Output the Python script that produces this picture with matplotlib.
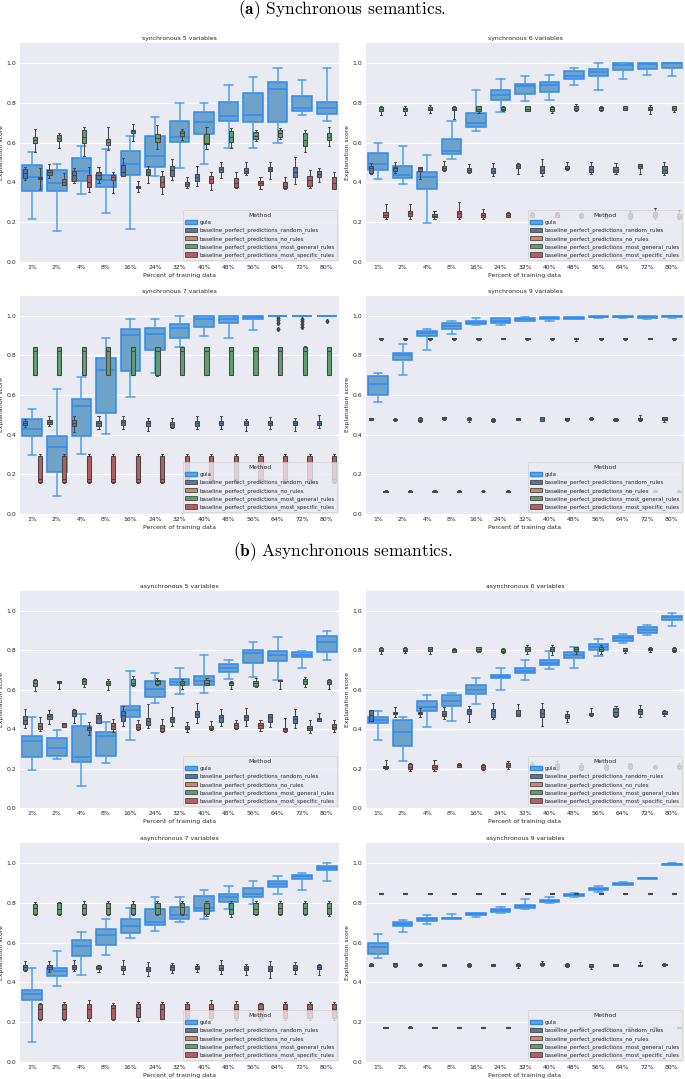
import matplotlib
matplotlib.use("Agg")
import matplotlib.pyplot as plt
from matplotlib.patches import Patch
import seaborn as sns

sns.set_theme(style="darkgrid")
plt.rcParams['font.family'] = ['DejaVu Sans']
plt.rcParams['mathtext.fontset'] = 'cm'

PERCENTS = ["1%", "2%", "4%", "8%", "16%", "24%", "32%", "40%", "48%", "56%", "64%", "72%", "80%"]
METHODS = ["gula",
           "baseline_perfect_predictions_random_rules",
           "baseline_perfect_predictions_no_rules",
           "baseline_perfect_predictions_most_general_rules",
           "baseline_perfect_predictions_most_specific_rules"]
TITLES = ["synchronous 5 variables", "synchronous 6 variables",
          "synchronous 7 variables", "synchronous 9 variables",
          "asynchronous 5 variables", "asynchronous 6 variables",
          "asynchronous 7 variables", "asynchronous 9 variables"]
HEADERS = [r"$\mathbf{(a)}$ Synchronous semantics.", r"$\mathbf{(b)}$ Asynchronous semantics."]

# each row: (lower whisker, Q1, median, Q3, upper whisker), one per percent
S5_GULA = [(0.215, 0.356, 0.429, 0.487, 0.555), (0.155, 0.358, 0.395, 0.462, 0.49),
           (0.341, 0.405, 0.459, 0.521, 0.583), (0.244, 0.375, 0.412, 0.439, 0.566),
           (0.165, 0.439, 0.491, 0.56, 0.634), (0.43, 0.479, 0.534, 0.635, 0.726),
           (0.474, 0.602, 0.63, 0.709, 0.8), (0.491, 0.644, 0.703, 0.751, 0.8),
           (0.571, 0.709, 0.734, 0.805, 0.887), (0.571, 0.703, 0.739, 0.849, 0.928),
           (0.6, 0.703, 0.869, 0.904, 0.973), (0.736, 0.76, 0.776, 0.835, 0.916),
           (0.709, 0.743, 0.773, 0.805, 0.973)]
S5_RANDOM = [(0.41, 0.42, 0.445, 0.465, 0.475), (0.42, 0.439, 0.45, 0.462, 0.49),
             (0.395, 0.408, 0.437, 0.459, 0.474), (0.398, 0.418, 0.437, 0.45, 0.476),
             (0.432, 0.432, 0.454, 0.487, 0.521), (0.398, 0.439, 0.454, 0.467, 0.484),
             (0.412, 0.434, 0.462, 0.484, 0.518), (0.383, 0.408, 0.425, 0.44, 0.482),
             (0.42, 0.45, 0.466, 0.477, 0.504), (0.437, 0.445, 0.459, 0.472, 0.504),
             (0.415, 0.459, 0.469, 0.479, 0.504), (0.39, 0.429, 0.454, 0.479, 0.529),
             (0.403, 0.425, 0.44, 0.459, 0.47)]
S5_GENERAL = [(0.555, 0.6, 0.613, 0.627, 0.667), (0.571, 0.607, 0.622, 0.637, 0.65),
              (0.534, 0.6, 0.63, 0.664, 0.68), (0.563, 0.59, 0.603, 0.617, 0.68),
              (0.608, 0.65, 0.657, 0.664, 0.692), (0.568, 0.602, 0.622, 0.642, 0.686),
              (0.613, 0.634, 0.647, 0.66, 0.667), (0.566, 0.593, 0.6, 0.642, 0.68),
              (0.571, 0.605, 0.63, 0.66, 0.672), (0.608, 0.617, 0.635, 0.652, 0.664),
              (0.617, 0.63, 0.647, 0.664, 0.672), (0.555, 0.583, 0.613, 0.647, 0.664),
              (0.583, 0.613, 0.63, 0.65, 0.68)]
S5_SPECIFIC = [(0.365, 0.415, 0.42, 0.427, 0.474), (0.388, 0.388, 0.402, 0.415, 0.445),
               (0.353, 0.378, 0.403, 0.437, 0.479), (0.348, 0.412, 0.425, 0.437, 0.45),
               (0.353, 0.373, 0.378, 0.383, 0.408), (0.341, 0.378, 0.403, 0.43, 0.459),
               (0.37, 0.383, 0.393, 0.403, 0.425), (0.361, 0.395, 0.415, 0.432, 0.45),
               (0.37, 0.378, 0.395, 0.42, 0.45), (0.365, 0.387, 0.398, 0.408, 0.429),
               (0.365, 0.37, 0.383, 0.4, 0.425), (0.37, 0.383, 0.412, 0.432, 0.464),
               (0.366, 0.366, 0.398, 0.429, 0.45)]

S6_GULA = [(0.415, 0.462, 0.491, 0.546, 0.597), (0.392, 0.42, 0.437, 0.484, 0.583),
           (0.198, 0.366, 0.429, 0.454, 0.538), (0.516, 0.543, 0.558, 0.617, 0.706),
           (0.659, 0.676, 0.697, 0.748, 0.866), (0.753, 0.815, 0.84, 0.866, 0.921),
           (0.807, 0.844, 0.886, 0.894, 0.936), (0.815, 0.854, 0.891, 0.904, 0.938),
           (0.891, 0.919, 0.933, 0.958, 0.975), (0.866, 0.933, 0.953, 0.97, 1.0),
           (0.919, 0.966, 0.987, 1.0, 1.0), (0.941, 0.971, 0.997, 1.0, 1.0),
           (0.933, 0.975, 1.0, 1.0, 1.0)]
S6_RANDOM = [(0.442, 0.445, 0.47, 0.484, 0.496), (0.445, 0.459, 0.47, 0.479, 0.504),
             (0.417, 0.459, 0.47, 0.479, 0.479), (0.459, 0.462, 0.474, 0.484, 0.508),
             (0.449, 0.454, 0.462, 0.47, 0.492), (0.432, 0.445, 0.459, 0.47, 0.499),
             (0.442, 0.47, 0.482, 0.492, 0.499), (0.434, 0.445, 0.462, 0.484, 0.516),
             (0.462, 0.466, 0.474, 0.484, 0.504), (0.442, 0.45, 0.466, 0.482, 0.501),
             (0.442, 0.45, 0.462, 0.479, 0.496), (0.442, 0.47, 0.482, 0.491, 0.491),
             (0.437, 0.449, 0.462, 0.484, 0.504)]
S6_GENERAL = [(0.74, 0.76, 0.77, 0.778, 0.782), (0.736, 0.76, 0.768, 0.776, 0.785),
              (0.748, 0.761, 0.771, 0.778, 0.79), (0.719, 0.761, 0.771, 0.778, 0.785),
              (0.748, 0.756, 0.77, 0.782, 0.782), (0.756, 0.761, 0.771, 0.778, 0.782),
              (0.756, 0.76, 0.77, 0.782, 0.782), (0.748, 0.756, 0.77, 0.778, 0.782),
              (0.756, 0.761, 0.773, 0.782, 0.793), (0.76, 0.765, 0.773, 0.778, 0.785),
              (0.765, 0.765, 0.776, 0.785, 0.785), (0.743, 0.761, 0.77, 0.778, 0.79),
              (0.753, 0.761, 0.776, 0.785, 0.785)]
S6_SPECIFIC = [(0.218, 0.224, 0.235, 0.249, 0.289), (0.218, 0.23, 0.244, 0.255, 0.289),
               (0.215, 0.224, 0.23, 0.239, 0.257), (0.218, 0.227, 0.244, 0.255, 0.303),
               (0.218, 0.224, 0.235, 0.244, 0.264), (0.224, 0.224, 0.235, 0.244, 0.249),
               (0.224, 0.228, 0.235, 0.244, 0.25), (0.224, 0.227, 0.237, 0.247, 0.25),
               (0.22, 0.225, 0.23, 0.24, 0.245), (0.22, 0.225, 0.232, 0.24, 0.248),
               (0.215, 0.22, 0.232, 0.245, 0.255), (0.218, 0.225, 0.238, 0.25, 0.27),
               (0.215, 0.222, 0.23, 0.24, 0.262)]

S7_GULA = [(0.299, 0.394, 0.428, 0.478, 0.529), (0.089, 0.211, 0.337, 0.396, 0.631),
           (0.304, 0.394, 0.545, 0.579, 0.69), (0.403, 0.508, 0.727, 0.785, 0.889),
           (0.592, 0.721, 0.903, 0.932, 0.982), (0.71, 0.827, 0.906, 0.94, 0.982),
           (0.844, 0.889, 0.941, 0.961, 1.0), (0.899, 0.945, 0.982, 1.0, 1.0),
           (0.886, 0.966, 0.982, 1.0, 1.0), (0.928, 0.982, 0.995, 1.0, 1.0),
           (0.997, 0.997, 1.0, 1.0, 1.0), (0.998, 0.998, 1.0, 1.0, 1.0),
           (0.999, 0.999, 1.0, 1.0, 1.0)]
S7_GULA_FLIERS = [[], [], [], [], [], [], [], [], [], [],
                  [0.99, 0.978, 0.965, 0.931], [0.985, 0.975, 0.96, 0.945], [0.975]]
S7_RANDOM = [(0.441, 0.45, 0.461, 0.47, 0.48), (0.445, 0.453, 0.465, 0.475, 0.492),
             (0.416, 0.446, 0.461, 0.475, 0.492), (0.428, 0.446, 0.461, 0.471, 0.492),
             (0.428, 0.45, 0.466, 0.475, 0.492), (0.419, 0.446, 0.458, 0.47, 0.483),
             (0.433, 0.441, 0.455, 0.466, 0.483), (0.428, 0.446, 0.458, 0.47, 0.495),
             (0.43, 0.448, 0.458, 0.47, 0.493), (0.42, 0.448, 0.458, 0.47, 0.48),
             (0.43, 0.448, 0.458, 0.47, 0.488), (0.418, 0.448, 0.458, 0.47, 0.483),
             (0.433, 0.448, 0.458, 0.47, 0.498)]
S7_GENERAL = [(0.701, 0.701, 0.824, 0.844, 0.844), (0.701, 0.702, 0.824, 0.844, 0.844),
              (0.701, 0.701, 0.822, 0.844, 0.844), (0.7, 0.701, 0.824, 0.844, 0.845),
              (0.7, 0.701, 0.824, 0.844, 0.844), (0.697, 0.701, 0.824, 0.844, 0.844),
              (0.701, 0.701, 0.824, 0.844, 0.844), (0.701, 0.701, 0.824, 0.844, 0.844),
              (0.7, 0.701, 0.824, 0.844, 0.844), (0.699, 0.701, 0.824, 0.844, 0.844),
              (0.701, 0.701, 0.824, 0.844, 0.844), (0.701, 0.702, 0.824, 0.844, 0.85),
              (0.701, 0.701, 0.824, 0.844, 0.844)]
S7_SPECIFIC = [(0.156, 0.16, 0.178, 0.295, 0.302), (0.156, 0.16, 0.178, 0.295, 0.302),
               (0.156, 0.16, 0.177, 0.295, 0.302), (0.156, 0.16, 0.178, 0.295, 0.302),
               (0.156, 0.16, 0.177, 0.295, 0.302), (0.156, 0.16, 0.176, 0.295, 0.302),
               (0.156, 0.16, 0.178, 0.295, 0.302), (0.156, 0.16, 0.178, 0.295, 0.302),
               (0.156, 0.16, 0.178, 0.295, 0.303), (0.156, 0.16, 0.178, 0.295, 0.302),
               (0.156, 0.16, 0.178, 0.295, 0.302), (0.156, 0.16, 0.178, 0.295, 0.302),
               (0.156, 0.16, 0.178, 0.295, 0.302)]

S9_GULA = [(0.567, 0.6, 0.654, 0.696, 0.713), (0.701, 0.775, 0.802, 0.814, 0.856),
           (0.827, 0.899, 0.911, 0.925, 0.936), (0.906, 0.933, 0.948, 0.966, 0.975),
           (0.956, 0.958, 0.966, 0.973, 0.99), (0.953, 0.965, 0.975, 0.987, 0.99),
           (0.975, 0.975, 0.982, 0.987, 0.995), (0.973, 0.982, 0.987, 0.992, 0.995),
           (0.982, 0.983, 0.99, 0.995, 0.995), (0.99, 0.992, 0.995, 0.998, 1.0),
           (0.99, 0.992, 0.995, 0.998, 1.0), (0.985, 0.991, 0.995, 0.998, 1.0),
           (0.99, 0.995, 0.998, 1.0, 1.0)]
S9_RANDOM = [(0.472, 0.474, 0.478, 0.482, 0.484), (0.47, 0.473, 0.477, 0.481, 0.484),
             (0.462, 0.468, 0.476, 0.486, 0.49), (0.474, 0.477, 0.482, 0.487, 0.49),
             (0.466, 0.472, 0.478, 0.484, 0.488), (0.462, 0.468, 0.474, 0.48, 0.482),
             (0.474, 0.476, 0.48, 0.483, 0.485), (0.468, 0.47, 0.478, 0.488, 0.49),
             (0.47, 0.472, 0.477, 0.482, 0.485), (0.474, 0.477, 0.481, 0.486, 0.488),
             (0.47, 0.472, 0.476, 0.48, 0.482), (0.47, 0.475, 0.48, 0.484, 0.498),
             (0.466, 0.473, 0.48, 0.487, 0.49)]
S9_GENERAL = [(0.88, 0.882, 0.885, 0.888, 0.89), (0.88, 0.882, 0.885, 0.888, 0.89),
              (0.88, 0.882, 0.885, 0.888, 0.89), (0.88, 0.882, 0.885, 0.888, 0.89),
              (0.88, 0.882, 0.885, 0.888, 0.889), (0.881, 0.882, 0.885, 0.888, 0.889),
              (0.88, 0.882, 0.885, 0.888, 0.89), (0.88, 0.882, 0.885, 0.887, 0.889),
              (0.875, 0.881, 0.885, 0.888, 0.89), (0.88, 0.882, 0.885, 0.888, 0.89),
              (0.88, 0.882, 0.885, 0.887, 0.889), (0.881, 0.882, 0.885, 0.887, 0.889),
              (0.88, 0.882, 0.885, 0.888, 0.889)]
S9_SPECIFIC = [(0.112, 0.113, 0.116, 0.118, 0.12), (0.112, 0.113, 0.115, 0.117, 0.119),
               (0.112, 0.113, 0.115, 0.117, 0.119), (0.112, 0.113, 0.116, 0.118, 0.12),
               (0.113, 0.114, 0.116, 0.118, 0.12), (0.112, 0.113, 0.115, 0.117, 0.119),
               (0.112, 0.113, 0.116, 0.118, 0.12), (0.112, 0.113, 0.116, 0.118, 0.12),
               (0.112, 0.113, 0.116, 0.118, 0.12), (0.112, 0.113, 0.116, 0.118, 0.12),
               (0.112, 0.113, 0.116, 0.118, 0.12), (0.112, 0.113, 0.116, 0.118, 0.12),
               (0.112, 0.113, 0.116, 0.118, 0.12)]

A5_GULA = [(0.193, 0.26, 0.339, 0.365, 0.459), (0.249, 0.264, 0.303, 0.353, 0.395),
           (0.109, 0.232, 0.26, 0.417, 0.476), (0.227, 0.264, 0.365, 0.387, 0.437),
           (0.345, 0.462, 0.496, 0.516, 0.697), (0.534, 0.563, 0.602, 0.642, 0.686),
           (0.576, 0.625, 0.639, 0.655, 0.711), (0.583, 0.625, 0.644, 0.667, 0.776),
           (0.655, 0.689, 0.711, 0.731, 0.751), (0.664, 0.736, 0.785, 0.802, 0.84),
           (0.65, 0.743, 0.776, 0.798, 0.866), (0.709, 0.765, 0.776, 0.793, 0.798),
           (0.751, 0.793, 0.84, 0.874, 0.896)]
A5_RANDOM = [(0.403, 0.424, 0.445, 0.467, 0.504), (0.424, 0.449, 0.466, 0.476, 0.499),
             (0.429, 0.467, 0.482, 0.496, 0.504), (0.429, 0.429, 0.454, 0.471, 0.484),
             (0.417, 0.44, 0.471, 0.491, 0.518), (0.403, 0.42, 0.44, 0.457, 0.526),
             (0.417, 0.437, 0.45, 0.462, 0.513), (0.432, 0.459, 0.479, 0.491, 0.534),
             (0.417, 0.437, 0.459, 0.471, 0.504), (0.415, 0.445, 0.462, 0.471, 0.509),
             (0.412, 0.437, 0.459, 0.474, 0.479), (0.408, 0.432, 0.45, 0.466, 0.504),
             (0.44, 0.44, 0.449, 0.457, 0.484)]
A5_GENERAL = [(0.592, 0.617, 0.634, 0.65, 0.655), (0.605, 0.634, 0.639, 0.644, 0.644),
              (0.613, 0.63, 0.644, 0.652, 0.659), (0.597, 0.622, 0.634, 0.644, 0.652),
              (0.617, 0.622, 0.635, 0.652, 0.667), (0.622, 0.63, 0.642, 0.65, 0.66),
              (0.602, 0.622, 0.634, 0.644, 0.655), (0.622, 0.625, 0.635, 0.647, 0.659),
              (0.602, 0.625, 0.634, 0.639, 0.644), (0.613, 0.618, 0.634, 0.644, 0.659),
              (0.605, 0.644, 0.647, 0.65, 0.65), (0.613, 0.63, 0.644, 0.652, 0.664),
              (0.605, 0.627, 0.639, 0.647, 0.655)]
A5_SPECIFIC = [(0.392, 0.398, 0.417, 0.429, 0.459), (0.412, 0.412, 0.424, 0.429, 0.432),
               (0.37, 0.395, 0.403, 0.412, 0.434), (0.383, 0.398, 0.417, 0.429, 0.45),
               (0.395, 0.398, 0.412, 0.424, 0.445), (0.383, 0.39, 0.407, 0.42, 0.45),
               (0.383, 0.398, 0.407, 0.415, 0.437), (0.395, 0.4, 0.408, 0.417, 0.44),
               (0.398, 0.407, 0.42, 0.429, 0.445), (0.392, 0.408, 0.42, 0.432, 0.445),
               (0.387, 0.39, 0.398, 0.407, 0.454), (0.378, 0.395, 0.407, 0.417, 0.445),
               (0.383, 0.4, 0.412, 0.424, 0.445)]

A6_GULA = [(0.345, 0.429, 0.445, 0.459, 0.492), (0.24, 0.314, 0.387, 0.445, 0.459),
           (0.412, 0.491, 0.513, 0.543, 0.571), (0.442, 0.516, 0.541, 0.571, 0.583),
           (0.529, 0.58, 0.597, 0.625, 0.661), (0.6, 0.661, 0.669, 0.676, 0.709),
           (0.647, 0.686, 0.697, 0.709, 0.748), (0.706, 0.726, 0.736, 0.748, 0.798),
           (0.711, 0.761, 0.776, 0.79, 0.815), (0.773, 0.802, 0.815, 0.832, 0.857),
           (0.835, 0.849, 0.861, 0.871, 0.882), (0.879, 0.887, 0.904, 0.919, 0.928),
           (0.921, 0.955, 0.966, 0.975, 0.988)]
A6_RANDOM = [(0.442, 0.442, 0.471, 0.499, 0.499), (0.462, 0.476, 0.482, 0.487, 0.513),
             (0.462, 0.476, 0.482, 0.487, 0.508), (0.449, 0.466, 0.479, 0.491, 0.513),
             (0.437, 0.476, 0.491, 0.504, 0.518), (0.449, 0.462, 0.492, 0.504, 0.534),
             (0.467, 0.467, 0.479, 0.496, 0.526), (0.417, 0.459, 0.482, 0.501, 0.533),
             (0.437, 0.457, 0.467, 0.479, 0.492), (0.467, 0.471, 0.479, 0.484, 0.509),
             (0.459, 0.467, 0.487, 0.508, 0.518), (0.462, 0.474, 0.492, 0.504, 0.521),
             (0.467, 0.476, 0.484, 0.492, 0.499)]
A6_GENERAL = [(0.782, 0.798, 0.803, 0.81, 0.815), (0.785, 0.795, 0.803, 0.812, 0.818),
              (0.782, 0.795, 0.807, 0.815, 0.818), (0.79, 0.793, 0.802, 0.807, 0.81),
              (0.79, 0.795, 0.807, 0.815, 0.818), (0.787, 0.793, 0.798, 0.807, 0.812),
              (0.782, 0.795, 0.807, 0.818, 0.824), (0.776, 0.798, 0.807, 0.815, 0.824),
              (0.782, 0.795, 0.807, 0.818, 0.818), (0.782, 0.795, 0.807, 0.815, 0.824),
              (0.787, 0.795, 0.802, 0.81, 0.812), (0.793, 0.803, 0.807, 0.812, 0.818),
              (0.79, 0.795, 0.803, 0.812, 0.818)]
A6_SPECIFIC = [(0.197, 0.202, 0.207, 0.213, 0.244), (0.19, 0.198, 0.21, 0.222, 0.23),
               (0.188, 0.198, 0.21, 0.218, 0.244), (0.207, 0.21, 0.217, 0.224, 0.227),
               (0.193, 0.197, 0.207, 0.218, 0.224), (0.197, 0.21, 0.218, 0.227, 0.239),
               (0.195, 0.2, 0.21, 0.224, 0.235), (0.195, 0.2, 0.21, 0.222, 0.238),
               (0.195, 0.2, 0.21, 0.22, 0.23), (0.195, 0.2, 0.21, 0.22, 0.232),
               (0.198, 0.205, 0.214, 0.222, 0.23), (0.2, 0.205, 0.21, 0.215, 0.22),
               (0.198, 0.204, 0.212, 0.22, 0.226)]

A7_GULA = [(0.1, 0.313, 0.343, 0.36, 0.472), (0.38, 0.432, 0.456, 0.474, 0.558),
           (0.436, 0.531, 0.581, 0.611, 0.653), (0.539, 0.586, 0.636, 0.67, 0.72),
           (0.623, 0.65, 0.682, 0.72, 0.774), (0.658, 0.687, 0.704, 0.766, 0.829),
           (0.704, 0.717, 0.737, 0.779, 0.829), (0.72, 0.759, 0.776, 0.832, 0.863),
           (0.771, 0.804, 0.829, 0.846, 0.883), (0.796, 0.829, 0.846, 0.876, 0.908),
           (0.843, 0.879, 0.896, 0.908, 0.933), (0.863, 0.921, 0.933, 0.938, 0.95),
           (0.908, 0.963, 0.975, 0.983, 1.0)]
A7_RANDOM = [(0.456, 0.464, 0.476, 0.486, 0.508), (0.452, 0.466, 0.477, 0.486, 0.508),
             (0.456, 0.469, 0.477, 0.486, 0.514), (0.452, 0.466, 0.474, 0.481, 0.489),
             (0.444, 0.464, 0.472, 0.482, 0.514), (0.432, 0.457, 0.469, 0.477, 0.503),
             (0.447, 0.464, 0.477, 0.486, 0.497), (0.452, 0.466, 0.474, 0.482, 0.494),
             (0.444, 0.461, 0.474, 0.486, 0.511), (0.436, 0.461, 0.472, 0.482, 0.494),
             (0.422, 0.456, 0.469, 0.481, 0.506), (0.444, 0.461, 0.474, 0.486, 0.503),
             (0.439, 0.466, 0.477, 0.486, 0.494)]
A7_GENERAL = [(0.737, 0.745, 0.774, 0.796, 0.804), (0.737, 0.742, 0.771, 0.799, 0.804),
              (0.737, 0.745, 0.774, 0.796, 0.807), (0.74, 0.745, 0.774, 0.799, 0.807),
              (0.737, 0.745, 0.774, 0.796, 0.807), (0.737, 0.742, 0.776, 0.799, 0.807),
              (0.737, 0.742, 0.779, 0.801, 0.807), (0.732, 0.742, 0.774, 0.801, 0.807),
              (0.729, 0.742, 0.771, 0.801, 0.807), (0.737, 0.742, 0.771, 0.801, 0.807),
              (0.737, 0.742, 0.776, 0.801, 0.807), (0.737, 0.742, 0.774, 0.801, 0.807),
              (0.732, 0.742, 0.774, 0.801, 0.807)]
A7_SPECIFIC = [(0.209, 0.218, 0.268, 0.29, 0.296), (0.209, 0.214, 0.268, 0.29, 0.302),
               (0.206, 0.223, 0.265, 0.29, 0.313), (0.209, 0.214, 0.271, 0.285, 0.296),
               (0.204, 0.226, 0.271, 0.29, 0.302), (0.214, 0.218, 0.268, 0.29, 0.302),
               (0.212, 0.22, 0.268, 0.29, 0.3), (0.21, 0.22, 0.268, 0.29, 0.31),
               (0.21, 0.22, 0.268, 0.29, 0.305), (0.21, 0.22, 0.268, 0.29, 0.298),
               (0.21, 0.22, 0.268, 0.29, 0.3), (0.21, 0.22, 0.268, 0.29, 0.3),
               (0.21, 0.22, 0.268, 0.29, 0.302)]

A9_GULA = [(0.523, 0.544, 0.578, 0.598, 0.645), (0.653, 0.682, 0.695, 0.704, 0.715),
           (0.695, 0.707, 0.717, 0.724, 0.74), (0.717, 0.717, 0.722, 0.725, 0.744),
           (0.729, 0.737, 0.744, 0.749, 0.75), (0.749, 0.754, 0.762, 0.771, 0.779),
           (0.771, 0.774, 0.782, 0.787, 0.817), (0.801, 0.804, 0.811, 0.816, 0.829),
           (0.829, 0.832, 0.841, 0.846, 0.849), (0.854, 0.863, 0.869, 0.874, 0.883),
           (0.888, 0.891, 0.896, 0.9, 0.905), (0.92, 0.92, 0.923, 0.925, 0.926),
           (0.99, 0.992, 0.995, 0.997, 1.0)]
A9_RANDOM = [(0.48, 0.484, 0.488, 0.493, 0.497), (0.478, 0.484, 0.49, 0.495, 0.497),
             (0.482, 0.485, 0.489, 0.493, 0.496), (0.48, 0.484, 0.487, 0.49, 0.493),
             (0.478, 0.482, 0.486, 0.49, 0.495), (0.482, 0.484, 0.487, 0.49, 0.492),
             (0.474, 0.482, 0.487, 0.491, 0.495), (0.48, 0.485, 0.49, 0.495, 0.505),
             (0.478, 0.483, 0.488, 0.492, 0.497), (0.465, 0.475, 0.482, 0.49, 0.492),
             (0.482, 0.484, 0.487, 0.49, 0.493), (0.482, 0.484, 0.486, 0.489, 0.5),
             (0.482, 0.485, 0.489, 0.493, 0.496)]
A9_GENERAL = [(0.844, 0.845, 0.847, 0.849, 0.85), (0.844, 0.845, 0.847, 0.849, 0.85),
              (0.845, 0.846, 0.847, 0.849, 0.85), (0.844, 0.845, 0.847, 0.849, 0.85),
              (0.844, 0.845, 0.847, 0.849, 0.85), (0.844, 0.845, 0.847, 0.849, 0.85),
              (0.844, 0.845, 0.847, 0.849, 0.85), (0.844, 0.845, 0.847, 0.849, 0.85),
              (0.844, 0.845, 0.847, 0.849, 0.85), (0.844, 0.845, 0.847, 0.849, 0.85),
              (0.843, 0.845, 0.847, 0.849, 0.85), (0.844, 0.845, 0.847, 0.849, 0.85),
              (0.844, 0.845, 0.847, 0.849, 0.85)]
A9_SPECIFIC = [(0.172, 0.173, 0.175, 0.177, 0.178), (0.171, 0.172, 0.175, 0.178, 0.179),
               (0.172, 0.173, 0.175, 0.176, 0.177), (0.172, 0.173, 0.175, 0.177, 0.178),
               (0.172, 0.173, 0.175, 0.177, 0.178), (0.172, 0.173, 0.175, 0.177, 0.178),
               (0.172, 0.173, 0.175, 0.177, 0.178), (0.172, 0.173, 0.175, 0.177, 0.178),
               (0.172, 0.173, 0.175, 0.177, 0.178), (0.172, 0.173, 0.175, 0.177, 0.178),
               (0.172, 0.173, 0.175, 0.177, 0.178), (0.172, 0.173, 0.175, 0.177, 0.178),
               (0.172, 0.173, 0.175, 0.177, 0.178)]

EMPTY_FLIERS = None

PANELS = [
    (S5_GULA, EMPTY_FLIERS, S5_RANDOM, S5_GENERAL, S5_SPECIFIC),
    (S6_GULA, EMPTY_FLIERS, S6_RANDOM, S6_GENERAL, S6_SPECIFIC),
    (S7_GULA, S7_GULA_FLIERS, S7_RANDOM, S7_GENERAL, S7_SPECIFIC),
    (S9_GULA, EMPTY_FLIERS, S9_RANDOM, S9_GENERAL, S9_SPECIFIC),
    (A5_GULA, EMPTY_FLIERS, A5_RANDOM, A5_GENERAL, A5_SPECIFIC),
    (A6_GULA, EMPTY_FLIERS, A6_RANDOM, A6_GENERAL, A6_SPECIFIC),
    (A7_GULA, EMPTY_FLIERS, A7_RANDOM, A7_GENERAL, A7_SPECIFIC),
    (A9_GULA, EMPTY_FLIERS, A9_RANDOM, A9_GENERAL, A9_SPECIFIC),
]

# ---------------------------------------------------------------- styling
deep = sns.color_palette("deep")
# colours for random / no_rules / most_general / most_specific (seaborn box saturation)
METHOD_COLORS = [None] + [sns.desaturate(c, 0.75) for c in deep[:4]]
GULA_FILL = "#6fa2c9"
GULA_EDGE = "#2e8bef"
GULA_WHISK = "#4f9ff0"
LINE_GRAY = "#474747"

FS = 4.4
W, H, DPI = 6.85, 10.79, 100
fig = plt.figure(figsize=(W, H), dpi=DPI)


def px_axes(x0, y0, x1, y1):
    return fig.add_axes([x0 / 685, 1 - y1 / 1079, (x1 - x0) / 685, (y1 - y0) / 1079])


COLS = [(20, 339), (366, 684)]
ROWS = [(43, 262), (296, 514), (591, 808), (843, 1062)]


def to_stats(rows, fliers=None):
    out = []
    for i, (lo, q1, med, q3, hi) in enumerate(rows):
        out.append(dict(whislo=lo, q1=q1, med=med, q3=q3, whishi=hi,
                        fliers=(fliers[i] if fliers else [])))
    return out


xs = list(range(len(PERCENTS)))
OFFSETS = [-0.3, -0.1, 0.1, 0.3]  # random, no_rules, general, specific

for k, (gula, gfl, rnd, gen, spec) in enumerate(PANELS):
    r, c = divmod(k, 2)
    ax = px_axes(COLS[c][0], ROWS[r][0], COLS[c][1], ROWS[r][1])
    ax.set_facecolor("#EAEAF2")
    for s in ax.spines.values():
        s.set_visible(False)
    ax.grid(axis="y", color="white", linewidth=0.9)
    ax.grid(axis="x", visible=False)
    ax.set_axisbelow(True)

    ax.bxp(to_stats(gula, gfl), positions=xs, widths=0.8, capwidths=0.34,
           patch_artist=True, showfliers=True, zorder=2,
           boxprops=dict(facecolor=GULA_FILL, edgecolor=GULA_EDGE, linewidth=1.1),
           whiskerprops=dict(color=GULA_WHISK, linewidth=1.1),
           capprops=dict(color=GULA_WHISK, linewidth=1.1),
           medianprops=dict(color=GULA_EDGE, linewidth=1.1),
           flierprops=dict(marker="d", markersize=2.2, markerfacecolor=LINE_GRAY,
                           markeredgecolor=LINE_GRAY))

    for data, off, col in ((rnd, OFFSETS[0], METHOD_COLORS[1]),
                           (gen, OFFSETS[2], METHOD_COLORS[3]),
                           (spec, OFFSETS[3], METHOD_COLORS[4])):
        ax.bxp(to_stats(data), positions=[x + off for x in xs], widths=0.17,
               capwidths=0.085, patch_artist=True, showfliers=False, zorder=3,
               boxprops=dict(facecolor=col, edgecolor=LINE_GRAY, linewidth=0.75),
               whiskerprops=dict(color=LINE_GRAY, linewidth=0.75),
               capprops=dict(color=LINE_GRAY, linewidth=0.75),
               medianprops=dict(color=LINE_GRAY, linewidth=0.75))

    ax.set_xlim(-0.5, len(PERCENTS) - 0.5)
    ax.set_ylim(0, 1.1)
    ax.set_yticks([0.0, 0.2, 0.4, 0.6, 0.8, 1.0])
    ax.set_yticklabels(["0.0", "0.2", "0.4", "0.6", "0.8", "1.0"])
    ax.set_xticks(xs)
    ax.set_xticklabels(PERCENTS)
    ax.tick_params(axis="both", length=0, labelsize=FS, colors="#262626", pad=2.5)
    ax.set_title(TITLES[k], fontsize=FS, pad=2.5, color="#262626")
    ax.set_xlabel("Percent of training data", fontsize=FS, labelpad=1.5, color="#262626")
    ax.set_ylabel("Explanation score", fontsize=FS, labelpad=2, color="#262626")

    handles = [Patch(facecolor=GULA_FILL, edgecolor=GULA_EDGE, linewidth=1.0, label=METHODS[0])]
    for m in range(1, 5):
        handles.append(Patch(facecolor=METHOD_COLORS[m], edgecolor=LINE_GRAY,
                             linewidth=0.6, label=METHODS[m]))
    leg = ax.legend(handles=handles, loc="lower right", title="Method", fontsize=4.0,
                    title_fontsize=4.4, framealpha=0.8, borderaxespad=0.3,
                    labelspacing=0.45, handlelength=2.0, handleheight=0.8,
                    borderpad=0.4, handletextpad=0.6)
    leg.set_zorder(5)
    leg.get_frame().set_linewidth(0.5)

fig.text(0.5, 1 - 10 / 1079, HEADERS[0], ha="center", va="center",
         fontsize=12.5, family="cmr10", color="black")
fig.text(0.5, 1 - 552 / 1079, HEADERS[1], ha="center", va="center",
         fontsize=12.5, family="cmr10", color="black")

fig.savefig("out.png", dpi=DPI, facecolor="white")
